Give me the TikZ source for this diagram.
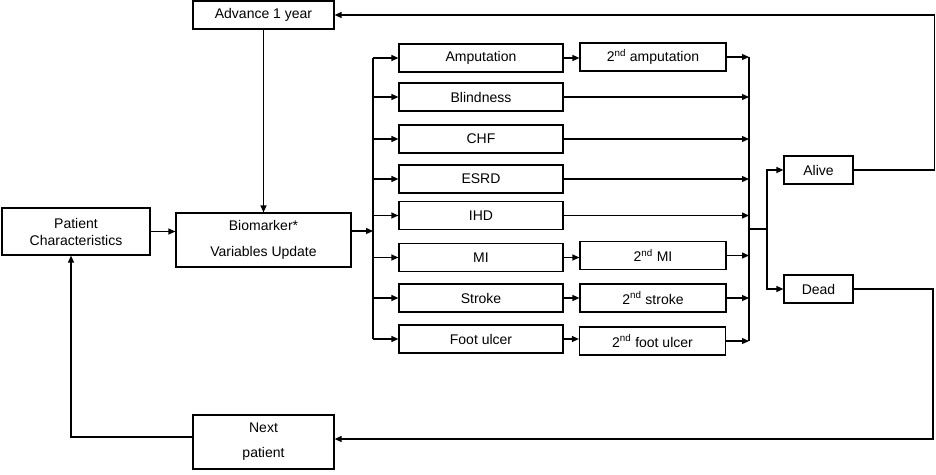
\documentclass[tikz,border=0pt]{standalone}
\usepackage{fontspec}
\setmainfont{Liberation Sans}
\usetikzlibrary{arrows.meta,positioning}

\begin{document}
\begin{tikzpicture}[x=1pt, y=-1pt, line width=1.2pt,
    box/.style={draw, inner sep=0pt, align=center, font=\fontsize{14}{17}\selectfont},
    ev/.style={box, minimum width=164pt, minimum height=28pt},
    evtwo/.style={box, minimum width=146pt, minimum height=28pt},
    state/.style={box, minimum width=69pt, minimum height=28pt},
    arr/.style={-{Triangle[length=7pt,width=6pt]}}]
    \useasboundingbox (0,0) rectangle (936,474);
    % main loop
    \node[box, minimum width=141pt, minimum height=28pt] (adv) at (263.5,15) {Advance 1 year};
    \node[box, minimum width=148pt, minimum height=47pt] (pc) at (76,231.5) {Patient\\Characteristics};
    \node[box, minimum width=175pt, minimum height=54pt] (bio) at (263.5,240) {Biomarker*\\[9pt]Variables Update};
    \node[box, minimum width=141pt, minimum height=54pt] (next) at (263.5,442) {Next\\[8pt]patient};
    % events
    \node[ev] (amp)    at (481,58)    {Amputation};
    \node[ev] (blind)  at (481,97)    {Blindness};
    \node[ev] (chf)    at (481,139)   {CHF};
    \node[ev] (esrd)   at (481,179)   {ESRD};
    \node[ev] (ihd)    at (481,215.5) {IHD};
    \node[ev] (mi)     at (481,257.5) {MI};
    \node[ev] (stroke) at (481,298)   {Stroke};
    \node[ev] (foot)   at (481,339)   {Foot ulcer};
    \node[evtwo] (amp2)    at (653,57)    {2\textsuperscript{nd} amputation};
    \node[evtwo] (mi2)     at (653,255.5) {2\textsuperscript{nd} MI};
    \node[evtwo] (stroke2) at (653,298)   {2\textsuperscript{nd} stroke};
    \node[evtwo] (foot2)   at (652.5,341) {2\textsuperscript{nd} foot ulcer};
    \node[state] (alive) at (818.5,170) {Alive};
    \node[state] (dead)  at (818.5,289) {Dead};
    \coordinate (splitL) at (373,231);
    \coordinate (joinR) at (749,229);
    \coordinate (fork) at (767,229);
    \coordinate (loopA) at (934.5,15);
    \coordinate (loopD) at (933,439);
    \coordinate (loopN) at (71,437);
    % connectors
    \draw[arr] (adv) -- (bio);
    \draw[arr] (pc.east) -- (pc.east -| bio.west);
    \draw[arr] (bio.east |- splitL) -- (splitL);
    \draw (splitL |- amp.west) -- (splitL |- foot.west);
    \foreach \n in {amp,blind,chf,esrd,ihd,mi,stroke,foot}
        \draw[arr] (splitL |- \n.west) -- (\n.west);
    \foreach \a/\b in {amp/amp2,mi/mi2,stroke/stroke2,foot/foot2}
        \draw[arr] (\a.east) -- (\a.east -| \b.west);
    \foreach \n in {amp2,blind,chf,esrd,ihd,mi2,stroke2,foot2}
        \draw[arr] (\n.east) -- (joinR |- \n.east);
    \draw (joinR |- amp2.east) -- (joinR |- foot2.east);
    \draw (joinR) -- (fork);
    \draw[arr] (fork) |- (alive);
    \draw[arr] (fork) |- (dead);
    \draw[arr] (alive.east) -| (loopA) -- (adv.east);
    \draw[arr] (dead.east) -| (loopD) -- (loopD -| next.east);
    \draw[arr] (next.west |- loopN) -- (loopN) -- (loopN |- pc.south);
\end{tikzpicture}
\end{document}
